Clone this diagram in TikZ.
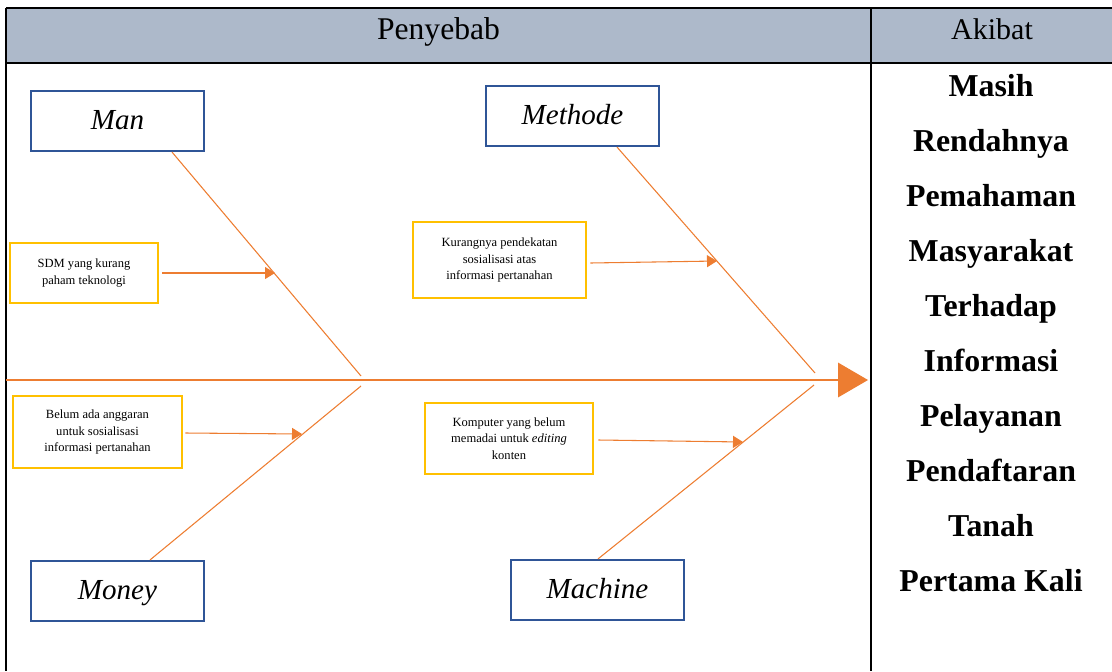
\documentclass[tikz,border=0pt]{standalone}
\usepackage{fontspec}
\setmainfont{Liberation Serif}
\usetikzlibrary{arrows.meta,calc}
\definecolor{headblue}{HTML}{ADB9CA}
\definecolor{boxblue}{HTML}{2F5597}
\definecolor{boxyellow}{HTML}{FFC000}
\definecolor{fishorange}{HTML}{ED7D31}
\tikzset{
  catbox/.style={draw=boxblue, line width=1.6pt, minimum width=129.75pt, minimum height=45pt,
    text height=15pt, text depth=3pt, font=\fontsize{21.8}{26}\selectfont\itshape},
  causebox/.style={draw=boxyellow, line width=2pt, align=center, inner sep=0pt,
    font=\fontsize{9.4}{12.5}\selectfont},
  bone/.style={draw=fishorange, line width=0.8pt},
  causearrow/.style={bone, -{Triangle[length=7.5pt,width=9pt]}},
  akibat/.style={anchor=base, font=\fontsize{23.9}{28}\selectfont\bfseries},
}
\begin{document}
\begin{tikzpicture}[x=0.75pt, y=-0.75pt]
        \useasboundingbox (0,0) rectangle (1112,671);
        \fill[headblue] (6,8) rectangle (1112,63);
        \draw[line width=1.5pt] (6,8) -- (1112,8);
        \draw[line width=1.5pt] (6,63) -- (1112,63);
        \draw[line width=1.5pt] (6,8) -- (6,671);
        \draw[line width=1.5pt] (871,8) -- (871,671);
        \node[anchor=base, font=\fontsize{23.7}{28}\selectfont] (penyebab) at (438.5,39) {Penyebab};
        \node[anchor=base, font=\fontsize{22.5}{28}\selectfont] (akibatHead) at (992,39) {Akibat};
        \foreach \w [count=\i] in {Masih, Rendahnya, Pemahaman, Masyarakat, Terhadap,
            Informasi, Pelayanan, Pendaftaran, Tanah, Pertama Kali}{
            \node[akibat] (ak\i) at (991, 41+55*\i) {\w};
        }
        \node[catbox] (man) at (117.5,121) {Man};
        \node[catbox] (methode) at (572.5,116) {Methode};
        \node[catbox] (money) at (117.5,591) {Money};
        \node[catbox] (machine) at (597.5,590) {Machine};
        \node[causebox, minimum width=111pt, minimum height=45pt] (sdm) at (84,273)
            {SDM yang kurang\\paham teknologi};
        \node[causebox, minimum width=129.75pt, minimum height=57pt] (kurang) at (499.5,260)
            {Kurangnya pendekatan\\sosialisasi atas\\informasi pertanahan};
        \node[causebox, minimum width=126.75pt, minimum height=54pt] (belum) at (97.5,432)
            {Belum ada anggaran\\untuk sosialisasi\\informasi pertanahan};
        \node[causebox, minimum width=126pt, minimum height=53.25pt] (komputer) at (509,438.5)
            {Komputer yang belum\\memadai untuk \textit{editing}\\konten};
        \coordinate (spineL) at (6,380);
        \coordinate (head) at (868,380);
        \coordinate (tipMan) at (361,376);
        \coordinate (tipMoney) at (361,386);
        \coordinate (tipMethode) at (815,373);
        \coordinate (tipMachine) at (814,385);
        \coordinate (hitMan) at (275,273);
        \coordinate (hitMethode) at (717,261);
        \coordinate (hitMoney) at (302,434);
        \coordinate (hitMachine) at (743,442);
        \draw[bone, -{Triangle[length=22.5pt,width=26pt]}] (spineL) -- (head);
        \draw[bone] ($(man.south)+(54.5,0)$) -- (tipMan);
        \draw[bone] ($(methode.south)+(44.5,0)$) -- (tipMethode);
        \draw[bone] ($(money.north)+(32.5,0)$) -- (tipMoney);
        \draw[bone] ($(machine.north)+(0.5,0)$) -- (tipMachine);
        \draw[causearrow] ($(sdm.east)+(3,0)$) -- (hitMan);
        \draw[causearrow] ($(kurang.east)+(3,3)$) -- (hitMethode);
        \draw[causearrow] ($(belum.east)+(2,1)$) -- (hitMoney);
        \draw[causearrow] ($(komputer.east)+(4,1.5)$) -- (hitMachine);
    \end{tikzpicture}
\end{document}
